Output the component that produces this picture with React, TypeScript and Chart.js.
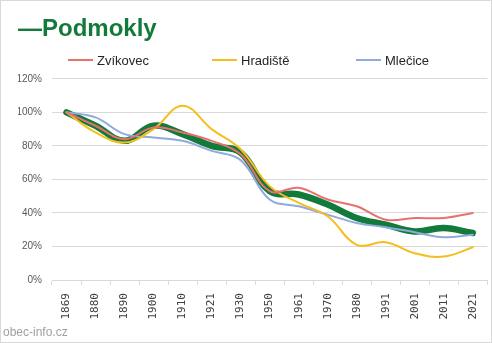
import React, { useEffect, useRef } from 'react';
import { Chart, registerables } from 'chart.js';

Chart.register(...registerables);

const years = ['1869', '1880', '1890', '1900', '1910', '1921', '1930', '1950', '1961', '1970', '1980', '1991', '2001', '2011', '2021'];
const podmokly = [100, 92, 83, 92, 87, 80, 76, 53, 51, 45, 37, 33, 29, 31, 28];
const zvikovec = [100, 92, 84, 91, 88, 83, 75, 53, 55, 48, 44, 36, 37, 37, 40];
const hradiste = [100, 88, 82, 90, 104, 90, 78, 56, 46, 38, 21, 22.5, 16, 14, 19.5];
const mlecice = [100, 97, 87, 85, 83, 77, 71.5, 48, 44, 39, 34, 31.5, 28.5, 25.5, 27];
const yMin = 0;
const yMax = 120;
const yStep = 20;

const GREEN = '#127A3A';
const RED = '#E8716E';
const YELLOW = '#F5BE1E';
const BLUE = '#8FAADC';

const lineLegend = {
  id: 'lineLegend',
  afterDraw(chart: any, _args: any, opts: any) {
    const ctx = chart.ctx;
    ctx.save();
    let x = opts.x;
    chart.data.datasets.forEach((ds: any) => {
      if (ds.hideInLegend) return;
      ctx.strokeStyle = ds.borderColor;
      ctx.lineWidth = 2;
      ctx.beginPath();
      ctx.moveTo(x, opts.y);
      ctx.lineTo(x + opts.lineLength, opts.y);
      ctx.stroke();
      ctx.fillStyle = opts.color;
      ctx.font = opts.font;
      ctx.textBaseline = 'middle';
      ctx.textAlign = 'left';
      ctx.fillText(ds.label, x + opts.lineLength + opts.gap, opts.y + 1);
      x += opts.spacing;
    });
    ctx.restore();
  },
};

const watermark = {
  id: 'watermark',
  afterDraw(chart: any, _args: any, opts: any) {
    const ctx = chart.ctx;
    ctx.save();
    ctx.fillStyle = opts.color;
    ctx.font = opts.font;
    ctx.textBaseline = 'middle';
    ctx.textAlign = 'left';
    ctx.fillText(opts.text, opts.x, opts.y);
    ctx.restore();
  },
};

export default function App() {
  const ref = useRef<HTMLCanvasElement>(null);
  useEffect(() => {
    document.body.style.margin = '0';
    const chart = new Chart(ref.current as HTMLCanvasElement, {
      type: 'line',
      data: {
        labels: years,
        datasets: [
          { label: 'Zvíkovec', data: zvikovec, borderColor: RED, backgroundColor: RED, borderWidth: 2 },
          { label: 'Hradiště', data: hradiste, borderColor: YELLOW, backgroundColor: YELLOW, borderWidth: 2 },
          { label: 'Mlečice', data: mlecice, borderColor: BLUE, backgroundColor: BLUE, borderWidth: 2 },
          { label: 'Podmokly', data: podmokly, borderColor: GREEN, backgroundColor: GREEN, borderWidth: 6.5, hideInLegend: true } as any,
        ],
      },
      options: {
        animation: false,
        responsive: true,
        maintainAspectRatio: false,
        layout: { padding: { left: 17, right: 1, top: 0, bottom: 14.5 } },
        elements: {
          point: { radius: 0, hoverRadius: 0 },
          line: { tension: 0.4, borderCapStyle: 'round', borderJoinStyle: 'round' },
        },
        plugins: {
          legend: { display: false },
          tooltip: { enabled: false },
          title: {
            display: true,
            text: '—Podmokly',
            align: 'start',
            color: GREEN,
            font: { family: 'Liberation Sans', size: 24, weight: 'bold' },
            padding: { top: 14, bottom: 35 },
          },
          lineLegend: {
            x: 67,
            y: 59,
            spacing: 144,
            lineLength: 25,
            gap: 4,
            color: '#262626',
            font: '13px "Liberation Sans"',
          },
          watermark: {
            text: 'obec-info.cz',
            x: 2,
            y: 332,
            color: '#a0a0a0',
            font: '12px "Liberation Sans"',
          },
        } as any,
        scales: {
          x: {
            offset: true,
            grid: { offset: true, drawOnChartArea: false, drawTicks: true, tickLength: 5, color: '#d9d9d9' },
            border: { display: true, color: '#d9d9d9' },
            ticks: {
              minRotation: 90,
              maxRotation: 90,
              autoSkip: false,
              padding: 8,
              color: '#404040',
              font: { family: 'DejaVu Sans Mono', size: 11 },
            },
          },
          y: {
            min: yMin,
            max: yMax,
            afterFit: (scale: any) => {
              scale.width = 34;
            },
            ticks: {
              stepSize: yStep,
              padding: 10,
              color: '#595959',
              font: { family: 'Liberation Sans', size: 10 },
              callback: (v: any) => v + '%',
            },
            grid: { color: '#d9d9d9', drawTicks: false },
            border: { display: false },
          },
        },
      },
      plugins: [lineLegend, watermark],
    });
    return () => chart.destroy();
  }, []);

  return (
    <div style={{ width: 492, height: 343, border: '1px solid #d9d9d9', boxSizing: 'border-box', overflow: 'hidden', background: '#fff' }}>
      <div style={{ width: 493, height: 341, position: 'relative' }}>
        <canvas ref={ref} />
      </div>
    </div>
  );
}
